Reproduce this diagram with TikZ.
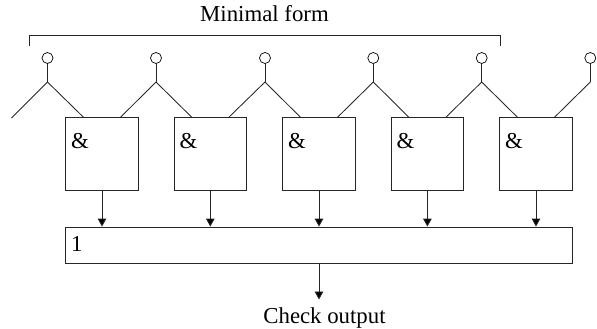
\documentclass[tikz,border=0pt]{standalone}
\usepackage{fontspec}
\setmainfont{Liberation Serif}
\usetikzlibrary{arrows.meta}
\tikzset{
  wire/.style={draw=black!85,line width=0.85pt},
  flow/.style={wire,-{Triangle[length=8pt,width=8.6pt,fill=black]}},
  gate/.style={draw=black!85,line width=0.85pt,rectangle,minimum width=72.4pt,minimum height=72.8pt,inner sep=0pt},
  orbox/.style={draw=black!85,line width=0.85pt,rectangle,minimum width=506.6pt,minimum height=36pt,inner sep=0pt},
  pin/.style={draw=black,line width=0.7pt,circle,fill=white,minimum size=11pt,inner sep=0pt},
  txt/.style={font=\fontsize{22.8pt}{24pt}\selectfont,inner sep=0pt},
}
\begin{document}
\begin{tikzpicture}[x=1pt,y=-1pt]
\useasboundingbox (0,0) rectangle (597,329);
% gates
\foreach \n/\x in {1/102,2/210.3,3/319,4/427.4,5/536}{
  \node[gate] (g\n) at (\x,154) {};
  \node[txt,anchor=base west] (amp\n) at (\x-31,148.5) {\&};
}
\node[orbox] (or) at (319,245) {};
\node[txt,anchor=base west] (one) at (71,251) {1};
% pins and junctions
\foreach \n/\x in {1/47.5,2/156,3/265,4/373.3,5/481.7,6/590.3}{
  \node[pin] (p\n) at (\x,58) {};
  \coordinate (j\n) at (\x,82);
  \draw[wire] (p\n) -- (j\n);
}
\coordinate (free) at (11.5,118);
\draw[wire] (j1) -- (free);
\foreach \j/\g in {1/1,2/2,3/3,4/4,5/5}{
  \coordinate (r\g) at ([xshift=18pt]g\g.north west);
  \draw[wire] (j\j) -- (r\g);
}
\foreach \j/\g in {2/1,3/2,4/3,5/4,6/5}{
  \coordinate (l\g) at ([xshift=-18pt]g\g.north east);
  \draw[wire] (j\j) -- (l\g);
}
% outputs
\foreach \n in {1,...,5}{
  \coordinate (in\n) at (g\n.south |- or.north);
  \draw[flow] (g\n.south) -- (in\n);
}
\node[txt,anchor=base] (check) at (324.5,323.5) {Check output};
\coordinate (out) at (319,299.5);
\draw[flow] (or.south -| out) -- (out);
% bracket
\node[txt,anchor=base] (minimal) at (264.5,22) {Minimal form};
\coordinate (ba) at (29.3,46);
\coordinate (bb) at (29.3,35);
\coordinate (bc) at (500,35);
\coordinate (bd) at (500,46);
\draw[wire] (ba) -- (bb) -- (bc) -- (bd);
\end{tikzpicture}
\end{document}
